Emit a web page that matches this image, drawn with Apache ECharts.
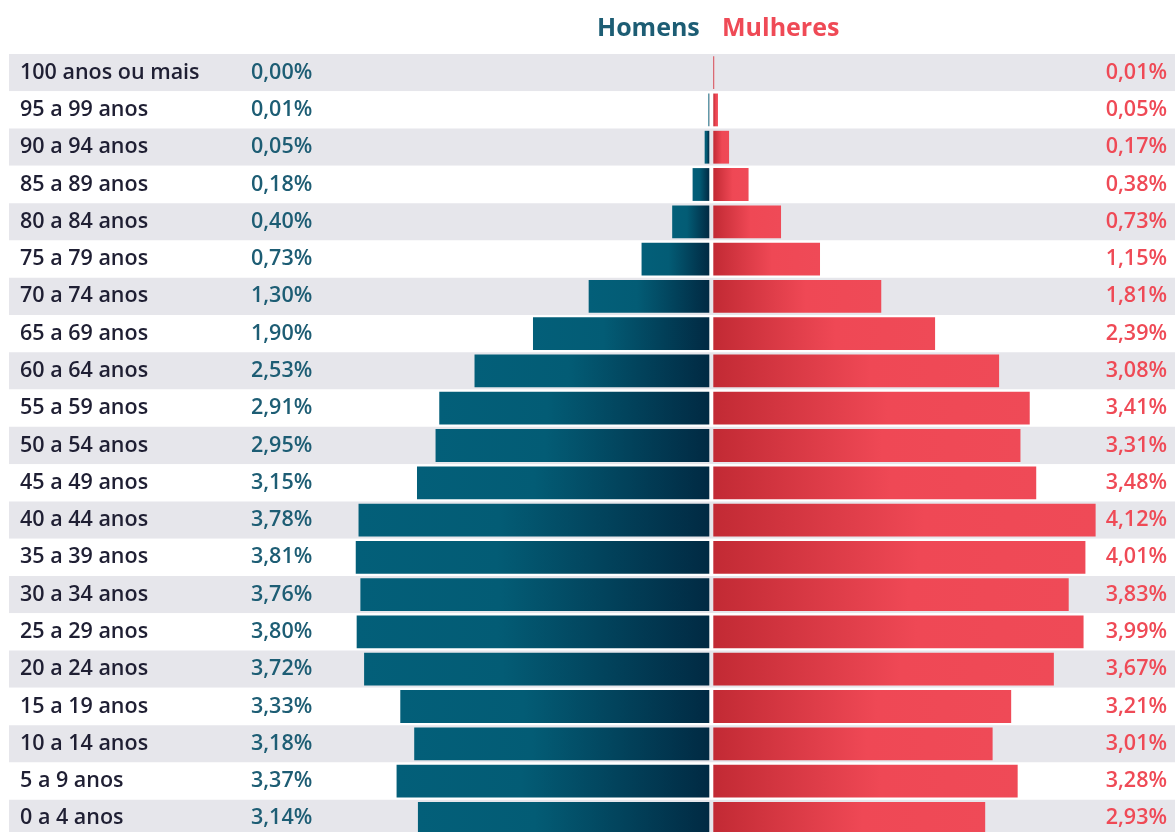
<!DOCTYPE html>
<html>
<head>
<meta charset="utf-8">
<script src="https://cdn.jsdelivr.net/npm/echarts@6/dist/echarts.min.js"></script>
<style>
    html, body { margin: 0; padding: 0; background: #fff; overflow: hidden; }
    #main { width: 1175px; height: 840px; }
</style>
</head>
<body>
<div id="main"></div>
<script>
// faixas etárias, de cima para baixo
const ages = ['100 anos ou mais', '95 a 99 anos', '90 a 94 anos', '85 a 89 anos', '80 a 84 anos',
    '75 a 79 anos', '70 a 74 anos', '65 a 69 anos', '60 a 64 anos', '55 a 59 anos', '50 a 54 anos',
    '45 a 49 anos', '40 a 44 anos', '35 a 39 anos', '30 a 34 anos', '25 a 29 anos', '20 a 24 anos',
    '15 a 19 anos', '10 a 14 anos', '5 a 9 anos', '0 a 4 anos'];
// % da população
const men = [0.00, 0.01, 0.05, 0.18, 0.40, 0.73, 1.30, 1.90, 2.53, 2.91, 2.95,
    3.15, 3.78, 3.81, 3.76, 3.80, 3.72, 3.33, 3.18, 3.37, 3.14];
const women = [0.01, 0.05, 0.17, 0.38, 0.73, 1.15, 1.81, 2.39, 3.08, 3.41, 3.31,
    3.48, 4.12, 4.01, 3.83, 3.99, 3.67, 3.21, 3.01, 3.28, 2.93];

const FONT = '"Open Sans", Lato, sans-serif';
const TOP = 54, HEIGHT = 783;   // a última faixa sai um pouco da imagem
const fmt = v => v.toFixed(2).replace('.', ',') + '%';

let chart = echarts.init(document.getElementById('main'), null, { renderer: 'canvas' });

let hiddenX = { type: 'value', show: false, min: 0, max: 4.9 };
let catBase = {
    type: 'category', data: ages, inverse: true,
    axisLine: { show: false, onZero: false }, axisTick: { show: false }, splitLine: { show: false }
};
// padding em cima desce o texto ~2px, como no original
let labelBase = { fontFamily: FONT, fontSize: 21.5, fontWeight: 600, padding: [4, 0, 0, 0] };

let option = {
    animation: false,
    backgroundColor: '#fff',
    title: [
        { text: 'Homens', left: 592, top: 11,
          textStyle: { color: '#1d5d74', fontFamily: FONT, fontSize: 25, fontWeight: 700 } },
        { text: 'Mulheres', left: 717, top: 11,
          textStyle: { color: '#ef4a56', fontFamily: FONT, fontSize: 25, fontWeight: 700 } }
    ],
    grid: [
        { left: 9, right: 0, top: TOP, height: HEIGHT },          // faixas de fundo
        { left: 254.6, width: 454.7, top: TOP, height: HEIGHT },  // homens
        { left: 713.3, width: 454.7, top: TOP, height: HEIGHT }   // mulheres
    ],
    xAxis: [
        Object.assign({ gridIndex: 0 }, hiddenX),
        Object.assign({ gridIndex: 1, inverse: true }, hiddenX),
        Object.assign({ gridIndex: 2 }, hiddenX)
    ],
    yAxis: [
        Object.assign({}, catBase, {
            gridIndex: 0,
            splitArea: { show: true, areaStyle: { color: ['#e6e6eb', '#ffffff'] } },
            axisLabel: Object.assign({ inside: true, margin: 11, color: '#1f1f33' }, labelBase)
        }),
        Object.assign({}, catBase, {
            gridIndex: 1,
            axisLabel: Object.assign({ align: 'center', margin: -27, color: '#1d5d74',
                formatter: (v, i) => fmt(men[i]) }, labelBase)
        }),
        Object.assign({}, catBase, {
            gridIndex: 2, position: 'right',
            axisLabel: Object.assign({ align: 'right', margin: -1, color: '#ef4a56',
                formatter: (v, i) => fmt(women[i]) }, labelBase)
        })
    ],
    series: [
        {
            name: 'Homens', type: 'bar', xAxisIndex: 1, yAxisIndex: 1,
            barWidth: '88%', data: men,
            itemStyle: {
                color: new echarts.graphic.LinearGradient(0, 0, 1, 0, [
                    { offset: 0, color: '#035f79' },
                    { offset: 0.4, color: '#035c75' },
                    { offset: 1, color: '#012a43' }
                ])
            }
        },
        {
            name: 'Mulheres', type: 'bar', xAxisIndex: 2, yAxisIndex: 2,
            barWidth: '88%', data: women,
            itemStyle: {
                color: new echarts.graphic.LinearGradient(0, 0, 1, 0, [
                    { offset: 0, color: '#c22a34' },
                    { offset: 0.55, color: '#ef4855' },
                    { offset: 1, color: '#ef4a57' }
                ])
            }
        }
    ]
};

chart.setOption(option);
window.onresize = function () { chart.resize(); };
</script>
</body>
</html>
